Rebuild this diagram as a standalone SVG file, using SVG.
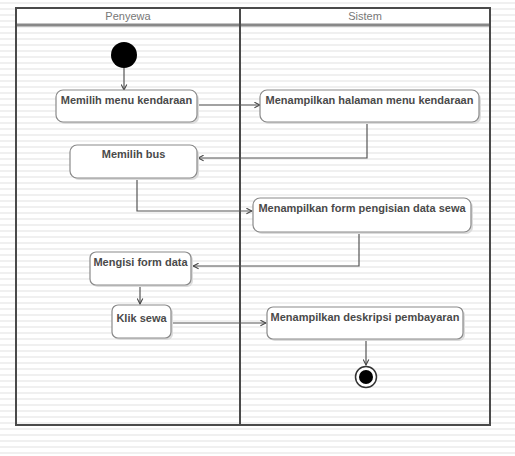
<svg xmlns="http://www.w3.org/2000/svg" width="515" height="456" viewBox="0 0 515 456">
  <defs>
    <pattern id="rules" width="515" height="6" patternUnits="userSpaceOnUse">
      <rect width="515" height="6" fill="#ffffff"/>
      <rect y="2" width="515" height="2" fill="#f0f0f0"/>
    </pattern>
    <marker id="arrow" viewBox="0 0 10 10" refX="9" refY="5" markerWidth="7" markerHeight="7" orient="auto" markerUnits="userSpaceOnUse">
      <path d="M1,1 L9,5 L1,9" fill="none" stroke="#444" stroke-width="1.5"/>
    </marker>
  </defs>
  <style>
    .lane { fill: none; stroke: #4a4a4a; stroke-width: 2; }
    .head { fill: #ffffff; }
    .sep { stroke: #888; stroke-width: 3; }
    .lanetitle { font-family: "Liberation Sans", Arial, sans-serif; font-size: 11px; fill: #777; text-anchor: middle; }
    .box { fill: #ffffff; stroke: #8a8a8a; stroke-width: 1.2; }
    .shadow { fill: #dcdcdc; }
    .label { font-family: "Liberation Sans", Arial, sans-serif; font-size: 11px; font-weight: bold; fill: #4a4a4a; text-anchor: middle; }
    .edge { fill: none; stroke: #555; stroke-width: 1.2; marker-end: url(#arrow); }
  </style>

  <!-- striped page background -->
  <rect width="515" height="456" fill="url(#rules)"/>

  <!-- swimlane frame -->
  <g id="swimlanes">
    <rect class="head" x="16" y="8" width="474" height="17"/>
    <line class="sep" x1="16" y1="25" x2="490" y2="25"/>
    <rect class="lane" x="16" y="8" width="474" height="417"/>
    <line class="lane" x1="240" y1="8" x2="240" y2="425"/>
    <text class="lanetitle" x="128" y="20">Penyewa</text>
    <text class="lanetitle" x="365" y="20">Sistem</text>
  </g>

  <!-- connectors -->
  <g id="connectors">
    <path class="edge" d="M124,68 V90"/>
    <path class="edge" d="M197,105 H260"/>
    <path class="edge" d="M367,123 V158 H198"/>
    <path class="edge" d="M137,179 V211 H252"/>
    <path class="edge" d="M359,233 V266 H193"/>
    <path class="edge" d="M140,286 V304"/>
    <path class="edge" d="M172,323 H266"/>
    <path class="edge" d="M366,340 V365"/>
  </g>

  <g id="start">
    <circle cx="124" cy="55" r="13" fill="#000"/>
  </g>

  <g id="memilih-menu">
    <rect class="shadow" x="58" y="92" width="141" height="32" rx="7"/>
    <rect class="box" x="56" y="90" width="141" height="32" rx="7"/>
    <text class="label" x="126.5" y="104">Memilih menu kendaraan</text>
  </g>

  <g id="tampil-halaman">
    <rect class="shadow" x="262" y="92" width="219" height="32" rx="7"/>
    <rect class="box" x="260" y="90" width="219" height="32" rx="7"/>
    <text class="label" x="369.5" y="104">Menampilkan halaman menu kendaraan</text>
  </g>

  <g id="memilih-bus">
    <rect class="shadow" x="72" y="147" width="127" height="33" rx="7"/>
    <rect class="box" x="70" y="145" width="127" height="33" rx="7"/>
    <text class="label" x="133.5" y="158">Memilih bus</text>
  </g>

  <g id="tampil-form">
    <rect class="shadow" x="255" y="200" width="218" height="34" rx="7"/>
    <rect class="box" x="253" y="198" width="218" height="34" rx="7"/>
    <text class="label" x="362" y="212">Menampilkan form pengisian data sewa</text>
  </g>

  <g id="mengisi-form">
    <rect class="shadow" x="92" y="254" width="101" height="33" rx="6"/>
    <rect class="box" x="90" y="252" width="101" height="33" rx="6"/>
    <text class="label" x="140.5" y="266">Mengisi form data</text>
  </g>

  <g id="klik-sewa">
    <rect class="shadow" x="114" y="307" width="59" height="33" rx="6"/>
    <rect class="box" x="112" y="305" width="59" height="33" rx="6"/>
    <text class="label" x="141.5" y="322">Klik sewa</text>
  </g>

  <g id="tampil-deskripsi">
    <rect class="shadow" x="269" y="309" width="196" height="32" rx="6"/>
    <rect class="box" x="267" y="307" width="196" height="32" rx="6"/>
    <text class="label" x="365" y="321">Menampilkan deskripsi pembayaran</text>
  </g>

  <g id="end">
    <circle cx="366" cy="377" r="10.5" fill="#fff" stroke="#333" stroke-width="1.5"/>
    <circle cx="366" cy="377" r="7" fill="#000"/>
  </g>
</svg>
